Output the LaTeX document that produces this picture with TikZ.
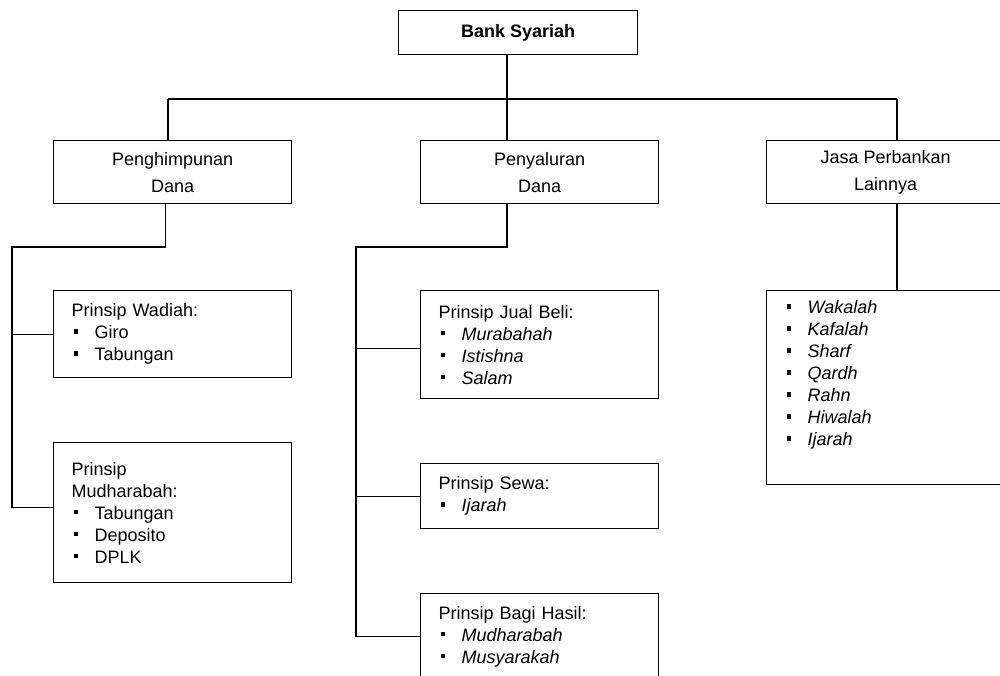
\documentclass[tikz,border=0pt]{standalone}
\usepackage{fontspec}
\setmainfont{Liberation Sans}
\usepackage{tikz}
\usetikzlibrary{calc}

\begin{document}
\begin{tikzpicture}[x=1pt, y=-1pt,
    line width=1.3pt,
    box/.style={draw, line width=1.3pt, anchor=north west, inner sep=0pt,
      font=\fontsize{18}{22}\selectfont},
    centerbox/.style={box, align=center, minimum width=238pt, minimum height=63pt,
      font=\fontsize{18}{27}\selectfont},
    listbox/.style={box, align=left, text width=202pt, inner xsep=18pt}]
  % Bullet items
  \newcommand\itm[1]{\makebox[23pt][l]{\hspace{2pt}\rule[5pt]{4.5pt}{4.5pt}}#1}

  \useasboundingbox (0,0) rectangle (1000,676);
  \clip (0,0) rectangle (1000,676);

  % Top
  \node[box, font=\fontsize{18}{22}\selectfont\bfseries,
        minimum width=239pt, minimum height=44pt] (bank) at (398,10) {Bank Syariah};

  % Second level
  \node[centerbox] (dana1) at (53,140)  {Penghimpunan\\Dana};
  \node[centerbox] (dana2) at (420,140) {Penyaluran\\Dana};
  \node[centerbox] (jasa)  at (766,140) {Jasa Perbankan\\Lainnya};

  % Penghimpunan Dana
  \node[listbox, minimum height=87pt] (wadiah) at (53,290)
    {Prinsip Wadiah:\\\itm{Giro}\\\itm{Tabungan}};
  \node[listbox, minimum height=140pt] (mudh) at (53,442)
    {Prinsip\\Mudharabah:\\\itm{Tabungan}\\\itm{Deposito}\\\itm{DPLK}};

  % Penyaluran Dana
  \node[listbox, minimum height=108pt] (jual) at (420,290)
    {Prinsip Jual Beli:\\\itm{\textit{Murabahah}}\\\itm{\textit{Istishna}}\\\itm{\textit{Salam}}};
  \node[listbox, minimum height=65pt] (sewa) at (420,463)
    {Prinsip Sewa:\\\itm{\textit{Ijarah}}};
  \node[listbox, minimum height=86pt] (bagi) at (420,593)
    {Prinsip Bagi Hasil:\\\itm{\textit{Mudharabah}}\\\itm{\textit{Musyarakah}}};

  % Jasa Perbankan Lainnya
  \node[listbox, minimum height=194pt] (jasalist) at (766,290)
    {\itm{\textit{Wakalah}}\\\itm{\textit{Kafalah}}\\\itm{\textit{Sharf}}\\\itm{\textit{Qardh}}\\
     \itm{\textit{Rahn}}\\\itm{\textit{Hiwalah}}\\\itm{\textit{Ijarah}}\\\strut};

  % Bus
  \coordinate (busL) at (168,99);
  \coordinate (busM) at (507,99);
  \coordinate (busR) at (897,99);
  \coordinate (trunkL) at (12,247);
  \coordinate (trunkM) at (356,247);
  \coordinate (mudhIn) at ([yshift=5pt]mudh.west);
  \coordinate (jualIn) at ([yshift=-4pt]jual.west);

  \draw (bank.south -| busM) -- (busM);
  \draw (busL) -- (busR);
  \draw (busL) -- (busL |- dana1.north);
  \draw (busM) -- (busM |- dana2.north);
  \draw (busR) -- (busR |- jasa.north);

  % Left branch
  \draw ([xshift=-7pt]dana1.south) |- (trunkL) -- (trunkL |- mudhIn) -- (mudhIn);
  \draw (trunkL |- wadiah.west) -- (wadiah.west);

  % Middle branch
  \draw (dana2.south -| busM) |- (trunkM) -- (trunkM |- bagi.west) -- (bagi.west);
  \draw (trunkM |- jualIn) -- (jualIn);
  \draw (trunkM |- sewa.west) -- (sewa.west);

  % Right branch
  \draw (jasa.south -| busR) -- (jasalist.north -| busR);
\end{tikzpicture}
\end{document}
